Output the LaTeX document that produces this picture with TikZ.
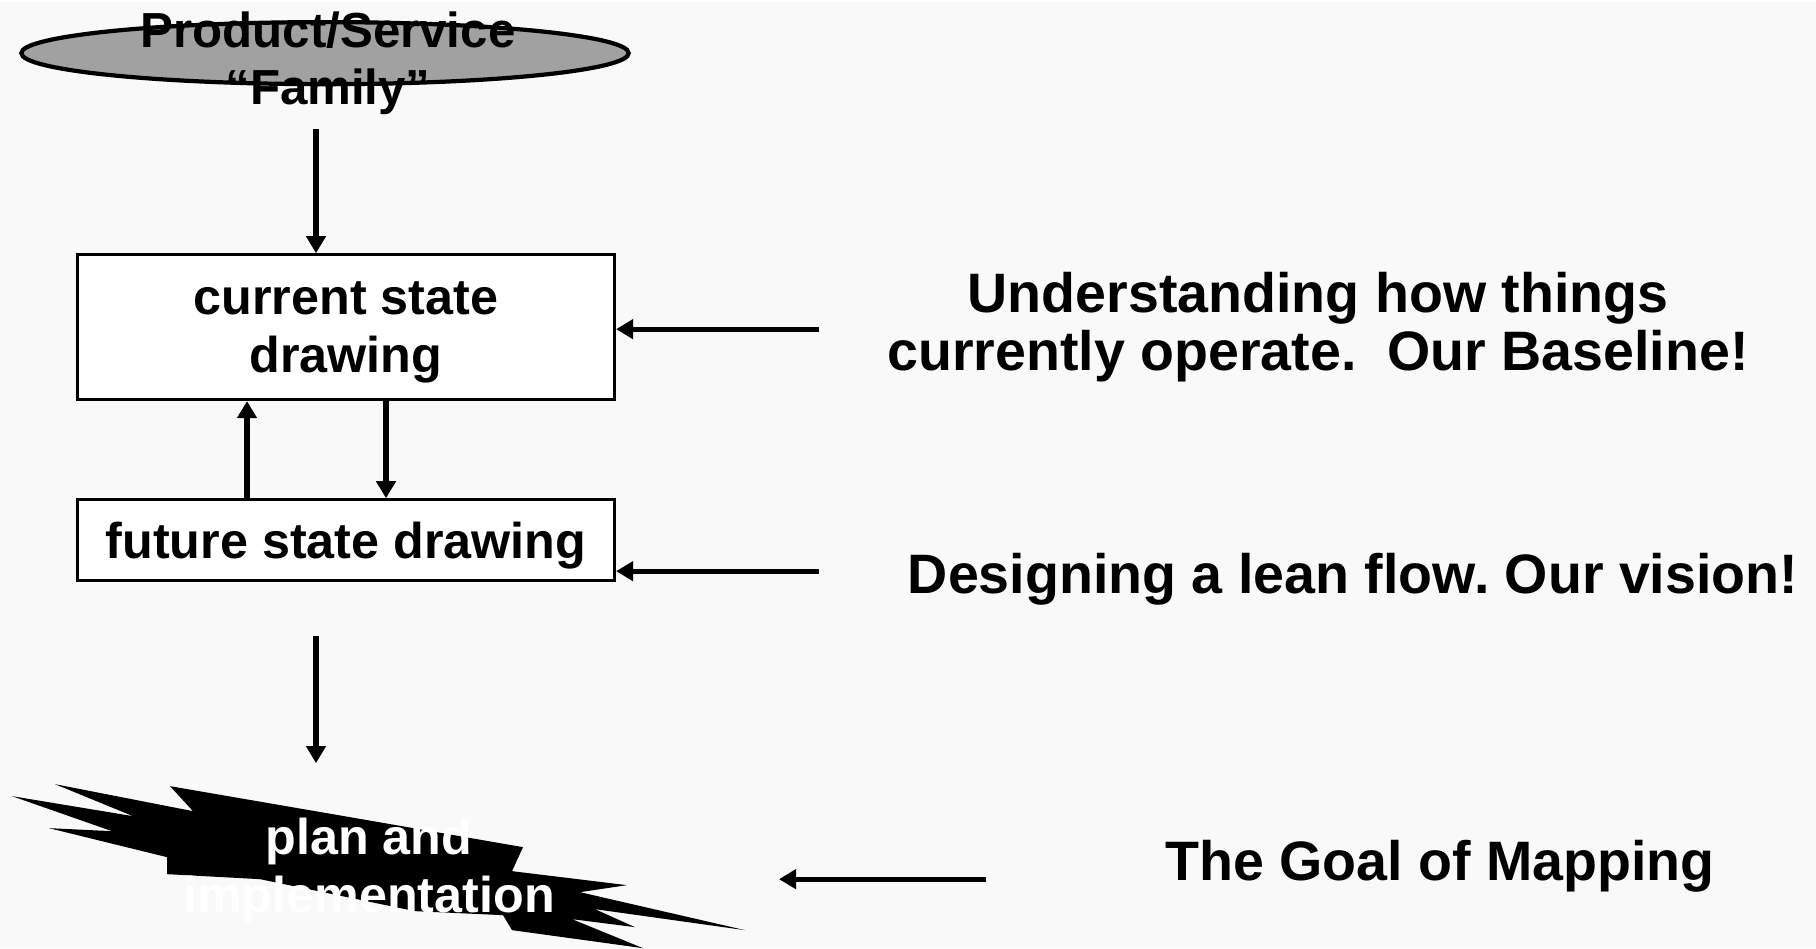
\documentclass[tikz,border=0pt]{standalone}
\usepackage{fontspec}
\setmainfont{Liberation Sans}
\usepackage{tikz}
\usetikzlibrary{arrows.meta,shapes.geometric,positioning}
\usepackage{xcolor}
\definecolor{slidebg}{HTML}{F9F9F9}
\colorlet{famgray}{black!37}
\newcommand\famfont{\fontsize{14}{16.2}\selectfont\bfseries}
\newcommand\boxfont{\fontsize{14.3}{16.5}\selectfont\bfseries}
\newcommand\notefont{\fontsize{15.8}{16.4}\selectfont\bfseries}
\tikzstyle{stagebox}=[draw,line width=0.8pt,fill=white,minimum width=5.37cm,inner sep=0pt,align=center,font=\boxfont]

\begin{document}
\frenchspacing
\begin{tikzpicture}[
    x=0.01cm,y=-0.01cm,
    arr/.style={
        line width=1.5pt,
        -{Triangle[length=0.17cm,width=0.19cm]}
    },
    note/.style={
        font=\notefont,
        align=center
    }
    ]
    \fill[slidebg] (0,0) rectangle (1816,946);
    \node[ellipse,draw,line width=1.2pt,fill=famgray,minimum width=6.07cm,minimum height=0.62cm,inner sep=0pt] 
        (fam) at (325,51) {};
    \node[font=\famfont,align=center] 
        (famtext) at (328,61) {Product/Service\\“Family”};
    \node[stagebox,minimum height=1.45cm,text height=1.0cm,text depth=0.1cm] 
        (cur) at (346,325) {current state\\drawing};
    \node[stagebox,minimum height=0.81cm,text height=0.49cm,text depth=0.12cm] 
        (fut) at (346,538) {future state drawing};
    % burst
    \fill[black] (55,782) -- (193,809) -- (170,784) -- (350,815) -- (523,845)
        -- (512,869) -- (627,883) -- (580,890) -- (745,928) -- (595,907)
        -- (635,925) -- (572,917) -- (643,946) -- (512,928) -- (503,913)
        -- (415,909) -- (260,877) -- (167,872) -- (167,855) -- (49,826)
        -- (112,829) -- (12,794) -- (133,814) -- cycle;
    \node[font=\boxfont,text=white,align=center] 
        (plan) at (369,868) {plan and\\implementation};
    \node[note] (noteA) at (1318,325) 
        {Understanding how things\\currently operate.\ \ Our Baseline!};
    \node[note,anchor=base] (noteB) at (1353,591) 
        {Designing a lean flow. Our vision!};
    \node[note,anchor=base] (noteC) at (1440,878) 
        {The Goal of Mapping};
    \coordinate (famout) at (316,127);
    \coordinate (upx) at (247,0);
    \coordinate (downx) at (386,0);
    \coordinate (futout) at (316,634);
    \coordinate (planin) at (316,761);
    \coordinate (noteAtail) at (819,327);
    \coordinate (noteBtail) at (819,569);
    \coordinate (noteCtail) at (986,877);
    \coordinate (planright) at (779,877);
    \draw[arr] (famout) -- (famout |- cur.north);
    \draw[arr] (fut.north -| upx) -- (cur.south -| upx);
    \draw[arr] (cur.south -| downx) -- (fut.north -| downx);
    \draw[arr] (futout) -- (planin);
    \draw[arr] (noteAtail) -- (noteAtail -| cur.east);
    \draw[arr] (noteBtail) -- (noteBtail -| fut.east);
    \draw[arr] (noteCtail) -- (planright);
\end{tikzpicture}
\end{document}
